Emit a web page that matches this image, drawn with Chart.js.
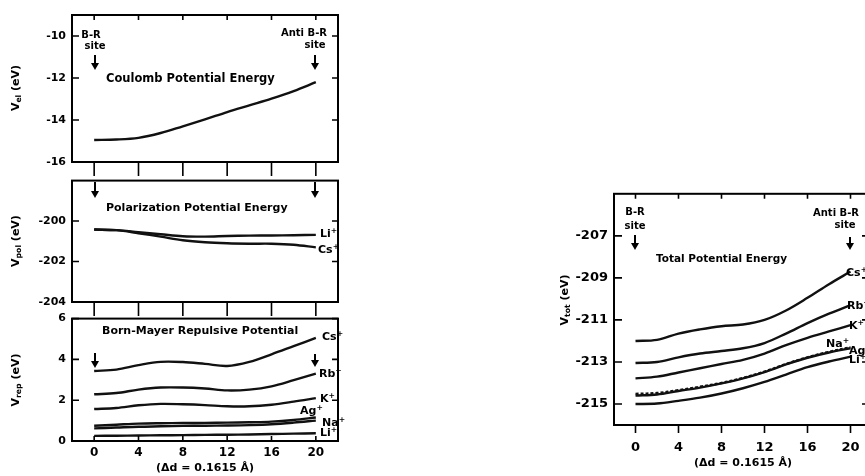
<!DOCTYPE html>
<html>
<head>
<meta charset="utf-8">
<script src="https://cdn.jsdelivr.net/npm/chart.js@4.4.1/dist/chart.umd.min.js"></script>
<style>
  html, body { margin: 0; padding: 0; background: #fff; }
  #wrap { position: relative; width: 865px; height: 476px; overflow: hidden; background: #fff;
          font-family: 'DejaVu Sans', sans-serif; font-weight: bold; color: #000; }
  canvas { position: absolute; }
  .t { position: absolute; white-space: nowrap; line-height: 1; }
  .t sup { font-size: 70%; vertical-align: 0.5em; line-height: 0; }
  .t sub { font-size: 70%; vertical-align: -0.3em; line-height: 0; }
  .rot { transform: translate(-50%, -50%) rotate(-90deg); }
  .arr { position: absolute; width: 2px; background: #000; }
  .arr::after { content: ''; position: absolute; left: -3px; bottom: -6px;
                border-left: 4px solid transparent; border-right: 4px solid transparent; border-top: 7px solid #000; }
</style>
</head>
<body>
<div id="wrap">
  <canvas id="cA" width="360" height="176" style="left:0;top:0"></canvas>
  <canvas id="cB" width="360" height="148" style="left:0;top:168px"></canvas>
  <canvas id="cC" width="360" height="170" style="left:0;top:306px"></canvas>
  <canvas id="cD" width="340" height="296" style="left:540px;top:180px"></canvas>
</div>
<script>
// lattice position along the path, in steps of Δd
const xVals = [0, 2, 4, 6, 8, 10, 12, 14, 16, 18, 20];
const xTickVals = [0, 4, 8, 12, 16, 20];

// Coulomb potential energy (eV)
const coulomb = [-14.95, -14.93, -14.85, -14.62, -14.3, -13.97, -13.62, -13.3, -12.98, -12.62, -12.2];
const coulombTicks = [-10, -12, -14, -16];

// polarization potential energy (eV)
const polLi = [-200.42, -200.45, -200.55, -200.65, -200.75, -200.77, -200.74, -200.72, -200.71, -200.7, -200.68];
const polCs = [-200.42, -200.45, -200.6, -200.77, -200.95, -201.05, -201.1, -201.12, -201.12, -201.17, -201.3];
const polTicks = [-200, -202, -204];

// Born-Mayer repulsive potential (eV)
const repCs = [3.43, 3.5, 3.72, 3.88, 3.87, 3.78, 3.68, 3.88, 4.25, 4.65, 5.05];
const repRb = [2.29, 2.35, 2.52, 2.62, 2.62, 2.57, 2.48, 2.52, 2.68, 2.98, 3.3];
const repK  = [1.57, 1.62, 1.75, 1.82, 1.8, 1.76, 1.7, 1.7, 1.78, 1.93, 2.1];
const repAg = [0.75, 0.8, 0.85, 0.87, 0.88, 0.89, 0.9, 0.92, 0.95, 1.03, 1.15];
const repNa = [0.62, 0.66, 0.7, 0.72, 0.74, 0.75, 0.76, 0.78, 0.82, 0.9, 1.0];
const repLi = [0.25, 0.26, 0.27, 0.28, 0.29, 0.3, 0.31, 0.32, 0.34, 0.36, 0.38];
const repTicks = [0, 2, 4, 6];

// total potential energy (eV)
const totCs = [-212.0, -211.95, -211.65, -211.45, -211.3, -211.22, -211.0, -210.55, -209.95, -209.3, -208.7];
const totRb = [-213.05, -213.0, -212.78, -212.6, -212.48, -212.35, -212.1, -211.65, -211.15, -210.7, -210.3];
const totK  = [-213.78, -213.7, -213.5, -213.3, -213.1, -212.9, -212.6, -212.2, -211.85, -211.55, -211.25];
const totNa = [-214.52, -214.48, -214.34, -214.18, -214.0, -213.76, -213.46, -213.1, -212.78, -212.52, -212.3];
const totAg = [-214.6, -214.55, -214.38, -214.22, -214.02, -213.78, -213.48, -213.12, -212.8, -212.55, -212.35];
const totLi = [-215.0, -214.98, -214.85, -214.7, -214.5, -214.25, -213.95, -213.6, -213.25, -212.98, -212.75];
const totTicks = [-207, -209, -211, -213, -215];

const xTitle = '(\u0394d = 0.1615 \u00c5)';

Chart.defaults.font.family = "'DejaVu Sans', sans-serif";
Chart.defaults.font.weight = 'bold';
Chart.defaults.color = '#000';

// box frame plus tick marks; positive length = into the plot, negative = outwards
const frameTicks = {
  id: 'frameTicks',
  afterDraw(chart, args, o) {
    const { ctx, chartArea: a, scales: { x, y } } = chart;
    ctx.save();
    ctx.strokeStyle = '#000';
    ctx.lineWidth = 2;
    ctx.strokeRect(a.left, a.top, a.right - a.left, a.bottom - a.top);
    ctx.lineWidth = 1.6;
    ctx.beginPath();
    y.ticks.forEach(t => {
      const py = y.getPixelForValue(t.value);
      if (o.left) { ctx.moveTo(a.left, py); ctx.lineTo(a.left + o.left, py); }
      if (o.right) { ctx.moveTo(a.right, py); ctx.lineTo(a.right - o.right, py); }
    });
    x.ticks.forEach(t => {
      const px = x.getPixelForValue(t.value);
      if (o.top) { ctx.moveTo(px, a.top); ctx.lineTo(px, a.top + o.top); }
      if (o.bottom) { ctx.moveTo(px, a.bottom); ctx.lineTo(px, a.bottom - o.bottom); }
    });
    ctx.stroke();
    ctx.restore();
  }
};

function lineSets(series) {
  return series.map(s => ({
    data: xVals.map((x, i) => ({ x, y: s[0][i] })),
    borderColor: '#111', borderWidth: 2.4, borderDash: s[1] || [],
    pointRadius: 0, tension: 0.35, fill: false
  }));
}

function makeChart(id, series, o) {
  return new Chart(document.getElementById(id), {
    type: 'line',
    data: { datasets: lineSets(series) },
    options: {
      responsive: false, animation: false, events: [],
      layout: { padding: o.pad },
      plugins: { legend: { display: false }, tooltip: { enabled: false }, frameTicks: o.ticks },
      scales: {
        x: {
          type: 'linear', min: -2, max: 22,
          grid: { display: false, drawTicks: false }, border: { display: false },
          ticks: { display: o.xLabels, padding: o.xPad || 0, maxRotation: 0, font: { size: o.xFont || 12 }, callback: v => String(v) },
          title: { display: !!o.xTitle, text: xTitle, font: { size: 11 }, padding: { top: 0, bottom: o.titlePad || 0 } },
          afterBuildTicks: s => { s.ticks = xTickVals.map(v => ({ value: v })); },
          afterFit: s => { s.height = o.xHeight; }
        },
        y: {
          type: 'linear', min: o.yMin, max: o.yMax,
          grid: { display: false, drawTicks: false }, border: { display: false },
          ticks: { padding: 6, font: { size: o.yFont || 11 }, callback: v => String(v) },
          afterBuildTicks: s => { s.ticks = o.yTicks.map(v => ({ value: v })); },
          afterFit: s => { s.width = o.yWidth; }
        }
      }
    },
    plugins: [frameTicks]
  });
}

makeChart('cA', [[coulomb]], {
  pad: { left: 0, right: 22, top: 15, bottom: 14 }, yWidth: 72, xHeight: 0, xLabels: false,
  yMin: -16, yMax: -9, yTicks: coulombTicks,
  ticks: { left: 7, right: 6, top: 5, bottom: -14 }
});

makeChart('cB', [[polLi], [polCs]], {
  pad: { left: 0, right: 22, top: 8, bottom: 14 }, yWidth: 72, xHeight: 0, xLabels: false,
  yMin: -204, yMax: -198, yTicks: polTicks,
  ticks: { left: 7, right: 6, bottom: -14 }
});

makeChart('cC', [[repCs], [repRb], [repK], [repAg], [repNa], [repLi]], {
  pad: { left: 0, right: 22, top: 10, bottom: 0 }, yWidth: 72, xHeight: 35, xLabels: true, xPad: 5, xFont: 12,
  xTitle: true, titlePad: 1,
  yMin: 0, yMax: 6, yTicks: repTicks,
  ticks: { left: 7, right: 6, bottom: 5 }
});

makeChart('cD', [[totCs], [totRb], [totK], [totNa, [3, 2]], [totAg], [totLi]], {
  pad: { left: 0, right: 8, top: 12, bottom: 0 }, yWidth: 74, xHeight: 51, xLabels: true, xPad: 15, xFont: 13,
  xTitle: true, titlePad: 6, yFont: 13,
  yMin: -216, yMax: -205, yTicks: totTicks,
  ticks: { left: 8, right: 10, top: 5, bottom: -8 }
});

// text annotations: [html, x, y, anchor, size]
const notes = [
  ['B-R', 91, 35, 'c', 10], ['site', 95, 46, 'c', 10],
  ['Anti B-R', 304, 33, 'c', 10], ['site', 315, 45, 'c', 10],
  ['Coulomb Potential Energy', 106, 79, 'l', 11.5],
  ['Polarization Potential Energy', 106, 207, 'l', 11],
  ['Born-Mayer Repulsive Potential', 102, 330, 'l', 11],
  ['Li<sup>+</sup>', 320, 233, 'l', 11], ['Cs<sup>+</sup>', 318, 249, 'l', 11],
  ['Cs<sup>+</sup>', 322, 336, 'l', 11], ['Rb<sup>+</sup>', 319, 373, 'l', 11],
  ['K<sup>+</sup>', 320, 398, 'l', 11], ['Ag<sup>+</sup>', 300, 410, 'l', 11],
  ['Na<sup>+</sup>', 322, 422, 'l', 11], ['Li<sup>+</sup>', 320, 432, 'l', 11],
  ['B-R', 635, 212, 'c', 10], ['site', 635, 226, 'c', 10],
  ['Anti B-R', 813, 213, 'l', 10], ['site', 845, 225, 'c', 10],
  ['Total Potential Energy', 656, 258, 'l', 10.5],
  ['Cs<sup>+</sup>', 846, 272, 'l', 11], ['Rb<sup>+</sup>', 847, 305, 'l', 11],
  ['K<sup>+</sup>', 849, 325, 'l', 11], ['Na<sup>+</sup>', 826, 343, 'l', 11],
  ['Ag<sup>+</sup>', 849, 350, 'l', 11], ['Li<sup>+</sup>', 849, 359, 'l', 11]
];
const yTitles = [
  ['V<sub>el</sub> (eV)', 15, 88], ['V<sub>pol</sub> (eV)', 15, 241],
  ['V<sub>rep</sub> (eV)', 15, 380], ['V<sub>tot</sub> (eV)', 564, 300]
];
// arrows: x, top, bottom
const arrows = [[95, 55, 70], [315, 55, 70], [95, 182, 198], [315, 182, 198],
                [95, 353, 368], [315, 354, 367], [635, 235, 250], [850, 237, 250]];

const wrap = document.getElementById('wrap');
notes.forEach(([html, x, y, anchor, size]) => {
  const el = document.createElement('div');
  el.className = 't';
  el.innerHTML = html;
  el.style.left = x + 'px';
  el.style.top = y + 'px';
  el.style.fontSize = size + 'px';
  el.style.transform = anchor === 'c' ? 'translate(-50%, -50%)' : 'translate(0, -50%)';
  wrap.appendChild(el);
});
yTitles.forEach(([html, x, y]) => {
  const el = document.createElement('div');
  el.className = 't rot';
  el.innerHTML = html;
  el.style.left = x + 'px';
  el.style.top = y + 'px';
  el.style.fontSize = '11px';
  wrap.appendChild(el);
});
arrows.forEach(([x, y1, y2]) => {
  const el = document.createElement('div');
  el.className = 'arr';
  el.style.left = (x - 1) + 'px';
  el.style.top = y1 + 'px';
  el.style.height = (y2 - y1 - 6) + 'px';
  wrap.appendChild(el);
});
</script>
</body>
</html>
